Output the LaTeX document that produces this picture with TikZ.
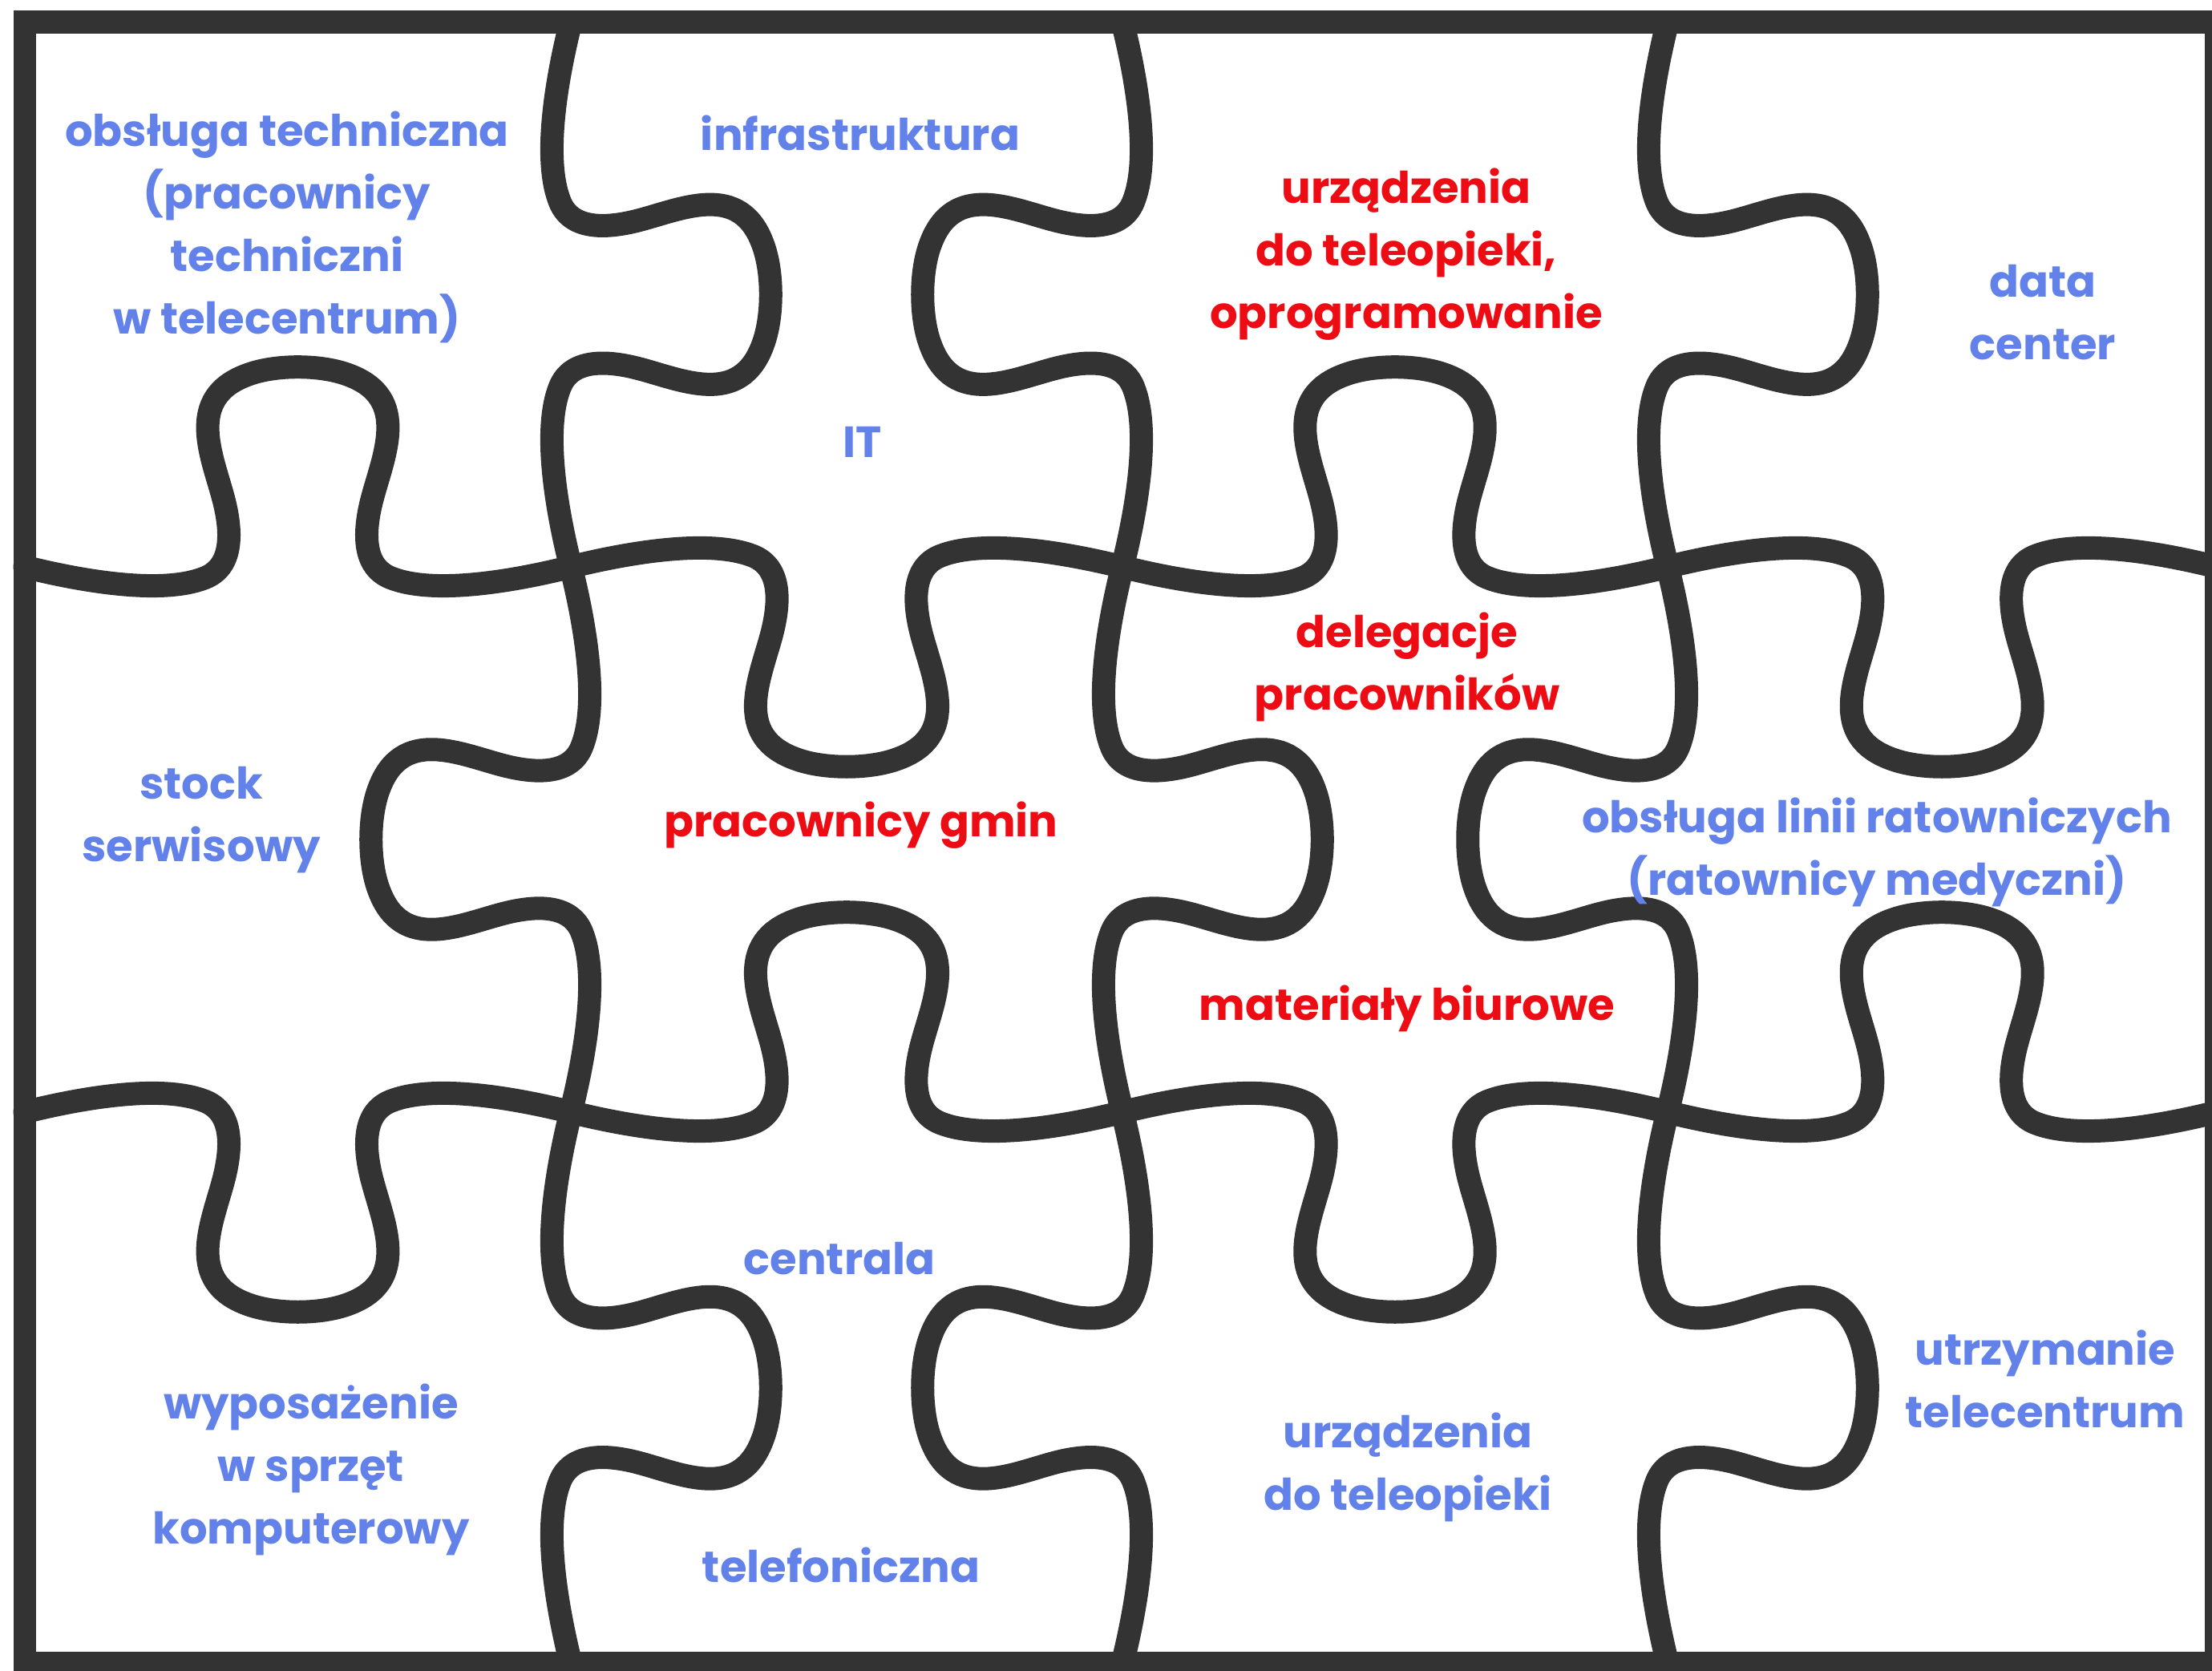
\documentclass[tikz,border=0pt]{standalone}
\usepackage{fontspec}
\setmainfont{Poppins}
\definecolor{lineg}{HTML}{333333}
\definecolor{txtblue}{HTML}{6282EA}
\definecolor{txtred}{HTML}{EE0C14}

% one puzzle edge: start x, start y, angle, length, tab height (sign = side)
\newcommand{\tabedge}[5]{%
  \draw[edge, shift={(#1,#2)}, rotate=#3, xscale=#4, yscale=#5]
    (0,0) .. controls (0.1,-0.025) and (0.25,-0.052) .. (0.33,-0.02)
    .. controls (0.38,0) and (0.38,0.06) .. (0.365,0.12)
    .. controls (0.345,0.2) and (0.29,0.31) .. (0.41,0.352)
    .. controls (0.46,0.37) and (0.54,0.37) .. (0.59,0.352)
    .. controls (0.71,0.31) and (0.655,0.2) .. (0.635,0.12)
    .. controls (0.62,0.06) and (0.62,0) .. (0.67,-0.02)
    .. controls (0.75,-0.052) and (0.9,-0.025) .. (1,0);
}

\begin{document}
\begin{tikzpicture}[
        edge/.style={
            draw=lineg,
            line width=0.29cm,
            line cap=round,
        },
        frame/.style={
            draw=lineg,
            line width=0.29cm,
            line join=miter,
        },
        lab/.style={
            font=\fontsize{15.5}{22.2}\selectfont\bfseries,
            align=center,
        },
        labblue/.style={
            lab,
            text=txtblue,
        },
        labred/.style={
            lab,
            text=txtred,
        },
    ]
        \useasboundingbox (0,0) rectangle (27.59,20.84);

        \draw[frame] (0.31,20.565) rectangle (27.645,0.095);

        % horizontal edges
        \tabedge{0.31}{13.77}{0}{6.81}{6.82}
        \tabedge{7.12}{13.77}{0}{6.88}{-6.82}
        \tabedge{14.00}{13.77}{0}{6.80}{6.82}
        \tabedge{20.80}{13.77}{0}{6.845}{-6.82}
        \tabedge{0.31}{6.97}{0}{6.81}{-6.82}
        \tabedge{7.12}{6.97}{0}{6.88}{6.82}
        \tabedge{14.00}{6.97}{0}{6.80}{-6.82}
        \tabedge{20.80}{6.97}{0}{6.845}{6.82}

        % vertical edges
        \tabedge{7.12}{20.565}{-90}{6.795}{6.82}
        \tabedge{7.12}{13.77}{-90}{6.80}{-6.82}
        \tabedge{7.12}{6.97}{-90}{6.875}{6.82}
        \tabedge{14.00}{20.565}{-90}{6.795}{-6.82}
        \tabedge{14.00}{13.77}{-90}{6.80}{6.82}
        \tabedge{14.00}{6.97}{-90}{6.875}{-6.82}
        \tabedge{20.80}{20.565}{-90}{6.795}{6.82}
        \tabedge{20.80}{13.77}{-90}{6.80}{-6.82}
        \tabedge{20.80}{6.97}{-90}{6.875}{6.82}

        \node[labblue] (techn) at (3.58,18.01) {obsługa techniczna\\(pracownicy\\techniczni\\w telecentrum)};
        \node[labblue] (infra) at (10.73,19.18) {infrastruktura};
        \node[labblue] (it) at (10.76,15.33) {IT};
        \node[labred] (urzred) at (17.54,17.67) {urządzenia\\do teleopieki,\\oprogramowanie};
        \node[labblue] (datac) at (25.48,16.94) {data\\center};
        \node[labblue] (stock) at (2.51,10.61) {stock\\serwisowy};
        \node[labred] (gmin) at (10.74,10.55) {pracownicy gmin};
        \node[labred] (deleg) at (17.55,12.52) {delegacje\\pracowników};
        \node[labred] (mater) at (17.55,8.26) {materiały biurowe};
        \node[labblue] (ratown) at (23.41,10.21) {obsługa linii ratowniczych\\(ratownicy medyczni)};
        \node[labblue] (wypos) at (3.88,2.51) {wyposażenie\\w sprzęt\\komputerowy};
        \node[labblue] (centr) at (10.47,5.14) {centrala};
        \node[labblue] (telef) at (10.49,1.32) {telefoniczna};
        \node[labblue] (urzblue) at (17.56,2.54) {urządzenia\\do teleopieki};
        \node[labblue] (utrzym) at (25.51,3.64) {utrzymanie\\telecentrum};
\end{tikzpicture}
\end{document}
